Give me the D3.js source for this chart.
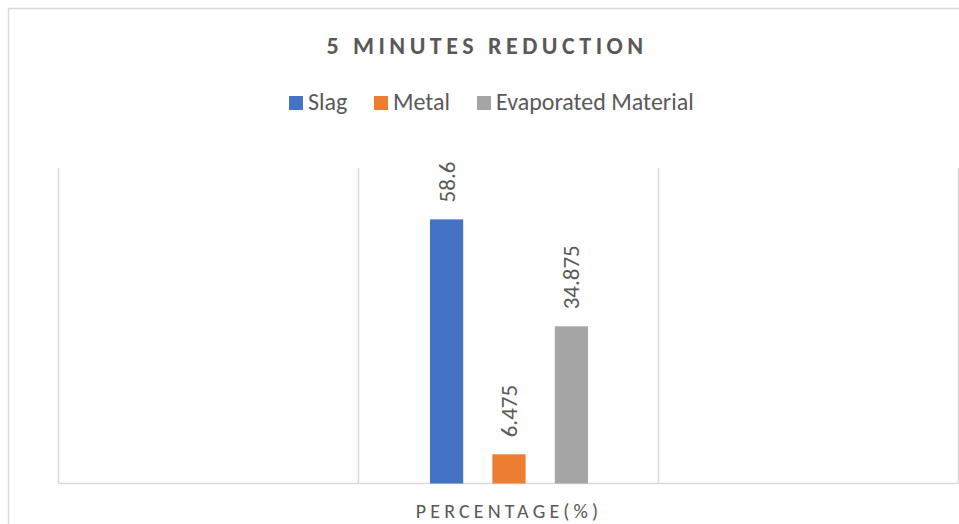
<!DOCTYPE html>
<html>
<head>
<meta charset="utf-8">
<script src="https://cdn.jsdelivr.net/npm/d3@7"></script>
<style>
  html, body { margin: 0; padding: 0; background: #fff; }
  svg { display: block; }
  text { font-family: Carlito, Calibri, Lato, "Open Sans", sans-serif; }
</style>
</head>
<body>
<svg id="chart" width="959" height="524"></svg>
<script>
const title = "5 MINUTES REDUCTION";
const categories = ["PERCENTAGE(%)"];
const seriesNames = ["Slag", "Metal", "Evaporated Material"];
const seriesValues = [58.6, 6.475, 34.875];
const seriesColors = ["#4472C4", "#ED7D31", "#A5A5A5"];
const yDomain = [0, 70];
const slotCount = 3;      // vertical gridline slots across the plot
const categorySlot = 1;   // the category sits in the middle slot

const svg = d3.select("#chart");
const W = 959, H = 524;

// outer chart border
svg.append("rect")
  .attr("x", 8.5).attr("y", 8.5)
  .attr("width", W + 10).attr("height", H + 10)
  .attr("fill", "#fff").attr("stroke", "#D9D9D9").attr("stroke-width", 1.5);

const plot = { left: 58.5, right: 958.5, top: 168, bottom: 483.5 };

const xSlots = d3.scaleLinear().domain([0, slotCount]).range([plot.left, plot.right]);
const xCat = d3.scaleBand().domain(categories)
  .range([xSlots(categorySlot), xSlots(categorySlot + 1)]);
const y = d3.scaleLinear().domain(yDomain).range([plot.bottom, plot.top]);

// vertical gridlines
svg.append("g").selectAll("line")
  .data(d3.range(slotCount + 1))
  .join("line")
  .attr("x1", d => xSlots(d)).attr("x2", d => xSlots(d))
  .attr("y1", plot.top).attr("y2", plot.bottom)
  .attr("stroke", "#D9D9D9").attr("stroke-width", 1.5);

// baseline axis
svg.append("line")
  .attr("x1", plot.left).attr("x2", plot.right + 2)
  .attr("y1", plot.bottom).attr("y2", plot.bottom)
  .attr("stroke", "#D9D9D9").attr("stroke-width", 1.5);

// bars
const groupHalf = 79;
categories.forEach(cat => {
  const cx = xCat(cat) + xCat.bandwidth() / 2 + 0.5;
  const xSer = d3.scaleBand().domain(seriesNames)
    .range([cx - groupHalf, cx + groupHalf]).paddingInner(0.468);
  const g = svg.append("g");
  g.selectAll("rect")
    .data(seriesNames.map((s, i) => ({ s, v: seriesValues[i], c: seriesColors[i] })))
    .join("rect")
    .attr("x", d => xSer(d.s))
    .attr("width", xSer.bandwidth())
    .attr("y", d => y(d.v))
    .attr("height", d => y(0) - y(d.v))
    .attr("fill", d => d.c);
  g.selectAll("text")
    .data(seriesNames.map((s, i) => ({ s, v: seriesValues[i] })))
    .join("text")
    .attr("transform", d => `translate(${xSer(d.s) + xSer.bandwidth() / 2},${y(d.v) - 17}) rotate(-90)`)
    .attr("text-anchor", "start")
    .attr("dy", "0.35em")
    .attr("font-size", 23)
    .attr("fill", "#595959")
    .text(d => String(d.v));

  // category label
  svg.append("text")
    .attr("x", cx).attr("y", 518)
    .attr("text-anchor", "middle")
    .attr("font-size", 20)
    .attr("letter-spacing", "4.15px")
    .attr("fill", "#595959")
    .text(cat);
});

// title
svg.append("text")
  .attr("x", 487).attr("y", 54)
  .attr("text-anchor", "middle")
  .attr("font-size", 24)
  .attr("font-weight", "bold")
  .attr("letter-spacing", "4.5px")
  .attr("fill", "#595959")
  .text(title);

// legend
const legendX = [289, 374, 477];
const lg = svg.append("g");
seriesNames.forEach((s, i) => {
  lg.append("rect")
    .attr("x", legendX[i]).attr("y", 96)
    .attr("width", 14).attr("height", 14)
    .attr("fill", seriesColors[i]);
  lg.append("text")
    .attr("x", legendX[i] + 19).attr("y", 110)
    .attr("font-size", 24)
    .attr("fill", "#595959")
    .text(s);
});
</script>
</body>
</html>
